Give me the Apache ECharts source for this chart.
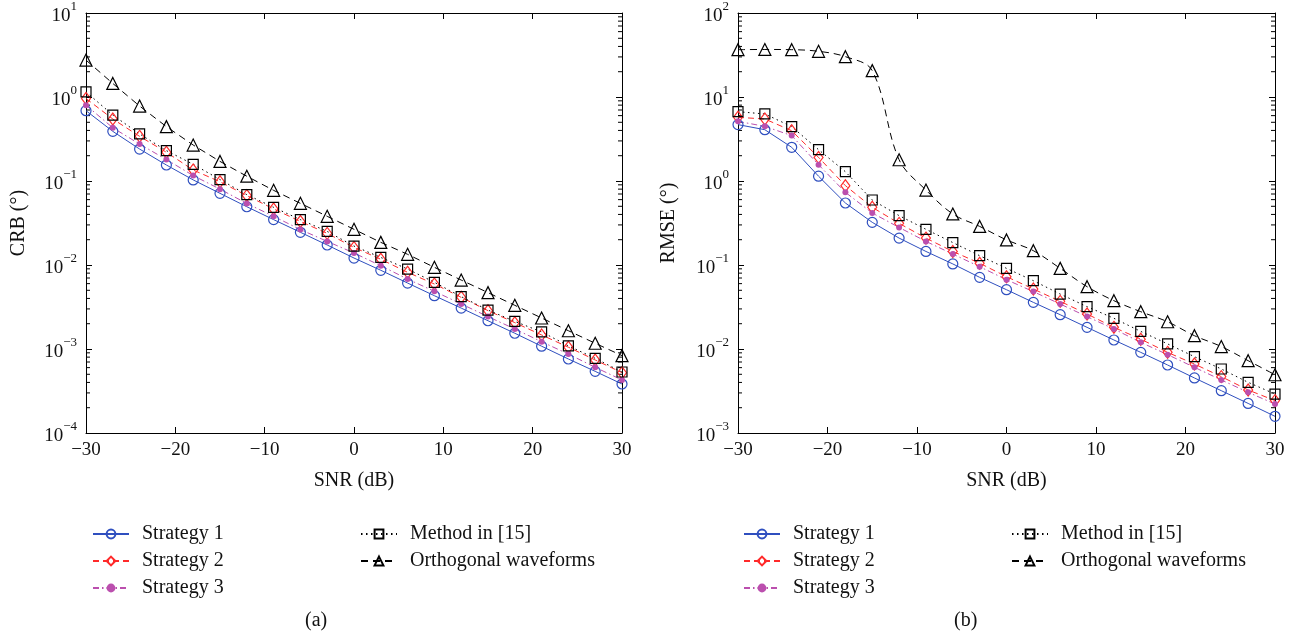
<!DOCTYPE html>
<html>
<head>
<meta charset="utf-8">
<script src="https://cdn.jsdelivr.net/npm/echarts@6/dist/echarts.min.js"></script>
<style>
  html, body { margin: 0; padding: 0; background: #fff; }
  #main { width: 1298px; height: 637px; }
</style>
</head>
<body>
<div id="main"></div>
<script>
// SNR (dB), one point every 3 dB
const snr = [-30, -27, -24, -21, -18, -15, -12, -9, -6, -3, 0, 3, 6, 9, 12, 15, 18, 21, 24, 27, 30];

// (a) CRB
const crbS1 = [0.687, 0.39, 0.24, 0.155, 0.103, 0.0713, 0.0494, 0.0347, 0.0245, 0.0173, 0.0121, 0.00865, 0.0061, 0.00431, 0.00307, 0.00217, 0.00154, 0.00108, 0.00076, 0.000542, 0.000383];
const crbS2 = [0.96, 0.547, 0.34, 0.22, 0.135, 0.098, 0.067, 0.0465, 0.033, 0.0238, 0.0162, 0.0117, 0.00818, 0.00594, 0.00412, 0.00286, 0.00206, 0.00147, 0.00105, 0.00074, 0.000523];
const crbS3 = [0.8, 0.43, 0.275, 0.18, 0.116, 0.08, 0.054, 0.038, 0.0264, 0.0191, 0.0139, 0.0098, 0.0068, 0.00486, 0.00344, 0.00243, 0.00173, 0.00122, 0.00087, 0.000605, 0.000428];
const crbM15 = [1.15, 0.61, 0.363, 0.23, 0.158, 0.104, 0.0688, 0.0486, 0.0347, 0.0251, 0.0168, 0.0123, 0.00895, 0.00622, 0.0042, 0.00291, 0.00213, 0.0016, 0.00109, 0.000774, 0.000532];
const crbOrth = [2.75, 1.45, 0.78, 0.444, 0.268, 0.171, 0.114, 0.0774, 0.0542, 0.038, 0.0266, 0.0186, 0.0134, 0.00938, 0.00662, 0.00469, 0.00331, 0.00234, 0.00165, 0.00117, 0.000834];

// (b) RMSE
const rmseS1 = [4.69, 4.08, 2.52, 1.14, 0.547, 0.322, 0.209, 0.145, 0.103, 0.0713, 0.0508, 0.0359, 0.0256, 0.0181, 0.0128, 0.00912, 0.00645, 0.00452, 0.00319, 0.00225, 0.00158];
const rmseS2 = [5.73, 5.47, 3.97, 1.91, 0.88, 0.486, 0.313, 0.209, 0.145, 0.105, 0.0726, 0.0518, 0.0369, 0.0261, 0.0181, 0.0131, 0.00912, 0.00662, 0.00469, 0.00325, 0.00243];
const rmseS3 = [5.13, 4.47, 3.47, 1.56, 0.733, 0.416, 0.28, 0.191, 0.135, 0.0955, 0.0668, 0.0482, 0.0343, 0.0243, 0.0173, 0.012, 0.00857, 0.00605, 0.00428, 0.00305, 0.00221];
const rmseM15 = [6.69, 6.28, 4.44, 2.36, 1.29, 0.594, 0.387, 0.266, 0.185, 0.129, 0.0912, 0.065, 0.0451, 0.0319, 0.0232, 0.0162, 0.0115, 0.0081, 0.00578, 0.00401, 0.00291];
const rmseOrth = [36.6, 36.8, 36.6, 35, 30.2, 20.6, 1.79, 0.78, 0.405, 0.288, 0.199, 0.148, 0.0912, 0.0552, 0.0376, 0.0278, 0.0211, 0.0144, 0.0107, 0.00726, 0.00494];

const FONT = 'Liberation Serif';

function pairs(ys) {
  return snr.map((x, i) => [x, ys[i]]);
}

// 2..9 x 10^k, for the small ticks of the log axes
function minorValues(kFrom, kTo) {
  let out = [];
  for (let k = kFrom; k <= kTo; k++) {
    for (let m = 2; m <= 9; m++) out.push([0, m * Math.pow(10, k)]);
  }
  return out;
}

// styles of the five curves
const styles = {
  'Strategy 1': { color: '#2f4fbf', symbol: 'circle', size: 10, type: 'solid', hollow: true },
  'Strategy 2': { color: '#ff2a2a', symbol: 'diamond', size: [9, 12], type: [6, 4], hollow: true },
  'Strategy 3': { color: '#bb4fae', symbol: 'circle', size: 6, type: [6, 3, 1.5, 3], hollow: false },
  'Method in [15]': { color: '#000', symbol: 'rect', size: 10, type: [1.5, 3.5], hollow: true },
  'Orthogonal waveforms': { color: '#000', symbol: 'triangle', size: 12, type: [7, 5], hollow: true }
};

function lineSeries(name, ys, idx, smooth) {
  const s = styles[name];
  return {
    name: name,
    type: 'line',
    xAxisIndex: idx,
    yAxisIndex: idx,
    data: pairs(ys),
    symbol: s.symbol,
    symbolSize: s.size,
    smooth: smooth || false,
    showAllSymbol: true,
    lineStyle: { color: s.color, width: 1, type: s.type },
    itemStyle: s.hollow
      ? { color: 'rgba(0,0,0,0)', borderColor: s.color, borderWidth: 1.2 }
      : { color: s.color, borderWidth: 0 },
    emphasis: { disabled: true },
    z: 3
  };
}

function minorTickSeries(idx, values) {
  return {
    type: 'custom',
    xAxisIndex: idx,
    yAxisIndex: idx,
    silent: true,
    data: values,
    renderItem: function (params, api) {
      const v = api.value(1);
      const pl = api.coord([-30, v]);
      const pr = api.coord([30, v]);
      return {
        type: 'group',
        children: [
          { type: 'line', shape: { x1: pl[0], y1: pl[1], x2: pl[0] + 4, y2: pl[1] }, style: { stroke: '#000', lineWidth: 1 } },
          { type: 'line', shape: { x1: pr[0] - 4, y1: pr[1], x2: pr[0], y2: pr[1] }, style: { stroke: '#000', lineWidth: 1 } }
        ]
      };
    }
  };
}

const tickLabel = { fontFamily: FONT, fontSize: 19, color: '#111' };

function xAxisPair(grid) {
  const base = {
    type: 'value', gridIndex: grid, min: -30, max: 30, interval: 10,
    axisLine: { onZero: false, lineStyle: { color: '#000', width: 1 } },
    axisTick: { inside: true, length: 6, lineStyle: { color: '#000' } },
    splitLine: { show: false }
  };
  return [
    Object.assign({}, base, {
      position: 'bottom',
      name: 'SNR (dB)', nameLocation: 'middle', nameGap: 38,
      nameTextStyle: { fontFamily: FONT, fontSize: 20, color: '#111' },
      axisLabel: Object.assign({ margin: 8, formatter: v => String(v).replace('-', '\u2212') }, tickLabel)
    }),
    Object.assign({}, base, { position: 'top', axisLabel: { show: false } })
  ];
}

function yAxisPair(grid, min, max, title, gap) {
  const base = {
    type: 'log', logBase: 10, gridIndex: grid, min: min, max: max,
    axisLine: { onZero: false, lineStyle: { color: '#000', width: 1 } },
    axisTick: { inside: true, length: 6, lineStyle: { color: '#000' } },
    splitLine: { show: false }
  };
  return [
    Object.assign({}, base, {
      position: 'left',
      name: title, nameLocation: 'middle', nameGap: gap,
      nameTextStyle: { fontFamily: FONT, fontSize: 20, color: '#111' },
      axisLabel: {
        margin: 9,
        formatter: function (v) {
          const e = Math.round(Math.log10(v));
          return '{b|10}{s|' + String(e).replace('-', '\u2212') + '}';
        },
        rich: {
          b: { fontFamily: FONT, fontSize: 19, color: '#111', lineHeight: 26, verticalAlign: 'bottom' },
          s: { fontFamily: FONT, fontSize: 13, color: '#111', lineHeight: 26, verticalAlign: 'top' }
        }
      }
    }),
    Object.assign({}, base, { position: 'right', axisLabel: { show: false } })
  ];
}

function legend(left, names) {
  return {
    left: left, top: 519, orient: 'vertical',
    data: names,
    itemWidth: 36, itemHeight: 11, itemGap: 7,
    selectedMode: false,
    textStyle: { fontFamily: FONT, fontSize: 20, color: '#111', lineHeight: 20, padding: [0, 0, 0, 8] }
  };
}

const groupA = ['Strategy 1', 'Strategy 2', 'Strategy 3'];
const groupB = ['Method in [15]', 'Orthogonal waveforms'];

let option = {
  animation: false,
  backgroundColor: '#fff',
  grid: [
    { left: 86, right: 676, top: 12, bottom: 204 },
    { left: 738, right: 23, top: 12, bottom: 204 }
  ],
  xAxis: [].concat(xAxisPair(0), xAxisPair(1)),
  yAxis: [].concat(yAxisPair(0, 1e-4, 10, 'CRB (\u00b0)', 57), yAxisPair(1, 1e-3, 100, 'RMSE (\u00b0)', 59)),
  legend: [
    legend(87, groupA), legend(355, groupB),
    legend(738, groupA), legend(1006, groupB)
  ],
  graphic: [
    { type: 'text', left: 305, top: 611, style: { text: '(a)', font: '20px "Liberation Serif"', fill: '#111' } },
    { type: 'text', left: 954, top: 611, style: { text: '(b)', font: '20px "Liberation Serif"', fill: '#111' } }
  ],
  series: [
    minorTickSeries(0, minorValues(-4, 0)),
    lineSeries('Strategy 1', crbS1, 0),
    lineSeries('Strategy 2', crbS2, 0),
    lineSeries('Strategy 3', crbS3, 0),
    lineSeries('Method in [15]', crbM15, 0),
    lineSeries('Orthogonal waveforms', crbOrth, 0),
    // right panel: x/y axis index 2 is the bottom/left pair of grid 1
    minorTickSeries(2, minorValues(-3, 1)),
    lineSeries('Strategy 1', rmseS1, 2),
    lineSeries('Strategy 2', rmseS2, 2),
    lineSeries('Strategy 3', rmseS3, 2),
    lineSeries('Method in [15]', rmseM15, 2),
    lineSeries('Orthogonal waveforms', rmseOrth, 2, 0.35)
  ]
};

const chart = echarts.init(document.getElementById('main'), null, { renderer: 'canvas' });
chart.setOption(option);
</script>
</body>
</html>
